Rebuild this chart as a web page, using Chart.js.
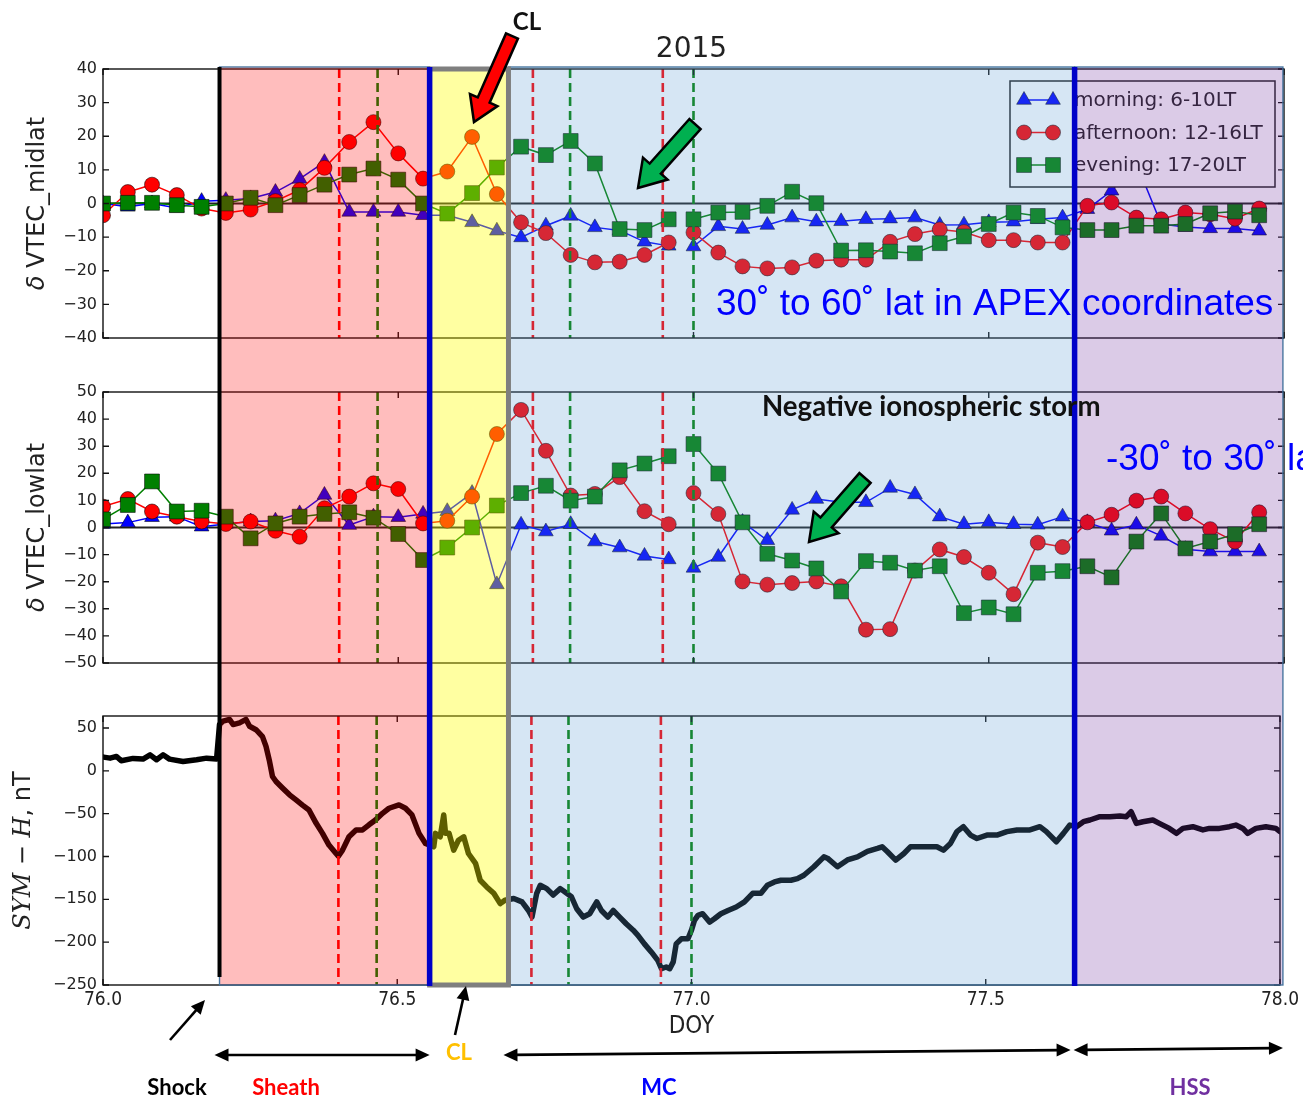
<!DOCTYPE html>
<html>
<head>
<meta charset="utf-8">
<script src="https://cdn.jsdelivr.net/npm/chart.js@4.4.1/dist/chart.umd.min.js"></script>
<style>
  html, body { margin: 0; padding: 0; background: #fff; }
  #fig { position: relative; width: 1303px; height: 1100px; overflow: hidden; }
  #fig canvas { position: absolute; left: 0; }
</style>
</head>
<body>
<div id="fig">
  <canvas id="midlat" width="1303" height="360" style="top:0px"></canvas>
  <canvas id="lowlat" width="1303" height="320" style="top:360px"></canvas>
  <canvas id="symh" width="1303" height="420" style="top:680px"></canvas>
  <canvas id="notes" width="1303" height="1100" style="top:0px"></canvas>
</div>
<script>
// ---------------------------------------------------------------------------
// Hourly VTEC deviation bins, day of year 2015 (DOY 76-77)
// ---------------------------------------------------------------------------
const doyHourly = [
  76.000, 76.042, 76.083, 76.125, 76.167, 76.208, 76.250, 76.292, 76.333, 76.375, 76.417, 76.458,
  76.500, 76.542, 76.583, 76.625, 76.667, 76.708, 76.750, 76.792, 76.833, 76.875, 76.917, 76.958,
  77.000, 77.042, 77.083, 77.125, 77.167, 77.208, 77.250, 77.292, 77.333, 77.375, 77.417, 77.458,
  77.500, 77.542, 77.583, 77.625, 77.667, 77.708, 77.750, 77.792, 77.833, 77.875, 77.917, 77.958
];

// mid latitudes (30 to 60 deg APEX)
const morningMid = [
  0, -1, 0, -1.3, 0.7, 1, 1.5, 3.4, 7.3, 12.3, -2.5, -2.5,
  -2.5, -3.5, -3.5, -5.6, -8.1, -10.1, -6.6, -3.7, -7.1, -8, -11.4, -12.6,
  -12.8, -6.8, -7.6, -6.4, -4.2, -5.4, -5.3, -4.7, -4.5, -4.2, -6.4, -6.3,
  -5.6, -5.4, -4.7, -4.2, -1.7, 3.8, 12, -6.1, -7, -7.4, -7.4, -8.1
];
const afternoonMid = [
  -3.5, 3.4, 5.6, 2.5, -1.5, -2.8, -1.8, 0.7, 4, 10.6, 18.3, 24.2,
  14.9, 7.4, 9.5, 19.8, 2.8, -5.6, -8.8, -15.3, -17.5, -17.3, -15.3, -11.6,
  -8.6, -14.6, -18.7, -19.3, -19, -17, -16.7, -16.7, -11.4, -9.1, -7.7, -8.5,
  -10.9, -10.9, -11.6, -11.6, -0.7, 0.3, -4.2, -4.7, -2.7, -3.2, -4.5, -1.5
];
const eveningMid = [
  0, 0.2, 0.2, -0.5, -1, 0, 1.7, -0.5, 2.5, 5.6, 8.6, 10.4,
  7.1, 0, -3, 3.1, 10.7, 16.9, 14.4, 18.6, 11.9, -7.6, -7.9, -4.7,
  -4.7, -2.7, -2.5, -0.7, 3.5, 0.1, -14, -13.9, -14.3, -14.8, -11.8, -9.8,
  -6.1, -2.7, -3.7, -7.1, -7.9, -7.9, -6.6, -6.6, -6.1, -2.9, -2.4, -3.5
];

// low latitudes (-30 to 30 deg APEX)
const morningLow = [
  1.3, 1.8, 3.8, 4, 0.3, 1.3, 2.2, 2.5, 5.2, 12, 0.9, 4,
  3.8, 5, 6, 12.7, -21, 1, -1.5, 1.2, -5.2, -7.4, -10.5, -11.8,
  -14.9, -10.9, 2, -4.7, 6.5, 10.5, 9.3, 9.3, 14.6, 12.2, 4, 1.2,
  1.9, 1.2, 1, 4, 1.9, -1.2, 1, -3.1, -8, -8.9, -8.9, -8.9
];
const afternoonLow = [
  7.7, 10.5, 5.9, 4, 2.2, 1.3, 2.2, -1.2, -3.4, 7.1, 11.4, 16.3,
  14.2, 1.5, 2.5, 11.4, 34.5, 43.4, 28.3, 11.8, 12.4, 18.6, 6, 1.2,
  12.7, 5, -19.9, -21.1, -20.5, -19.9, -21.7, -37.7, -37.5, -15.9, -8.1, -10.9,
  -16.7, -24.6, -5.6, -7.2, 1.9, 4.7, 9.9, 11.4, 5.2, -0.6, -5.2, 5.6
];
const eveningLow = [
  3, 8.3, 17, 5.9, 6.2, 4, -4, 1.5, 4, 5, 5.6, 3.6,
  -2.4, -12, -7.4, 0, 8.1, 12.7, 15.4, 9.9, 11.4, 21.1, 23.6, 26.3,
  30.8, 19.9, 1.9, -9.7, -12.2, -15.1, -23.6, -12.4, -13, -15.9, -14.3, -31.6,
  -29.5, -32, -16.7, -16.1, -14.3, -18.4, -5.2, 5.2, -7.7, -5.2, -2.5, 1.2
];

// SYM-H index, nT
const symDoy = [
  76.001, 76.012, 76.023, 76.031, 76.051, 76.068, 76.080, 76.091, 76.102, 76.113, 76.136, 76.159,
  76.176, 76.193, 76.198, 76.204, 76.215, 76.221, 76.232, 76.243, 76.249, 76.260, 76.271, 76.277,
  76.283, 76.288, 76.294, 76.305, 76.317, 76.328, 76.339, 76.350, 76.362, 76.373, 76.384, 76.396,
  76.400, 76.407, 76.418, 76.430, 76.441, 76.452, 76.463, 76.475, 76.486, 76.503, 76.514, 76.525,
  76.537, 76.548, 76.562, 76.565, 76.573, 76.579, 76.582, 76.588, 76.596, 76.604, 76.613, 76.621,
  76.633, 76.641, 76.652, 76.664, 76.675, 76.683, 76.698, 76.712, 76.723, 76.729, 76.737, 76.743,
  76.754, 76.765, 76.777, 76.788, 76.796, 76.805, 76.816, 76.827, 76.839, 76.847, 76.858, 76.867,
  76.878, 76.889, 76.901, 76.909, 76.920, 76.932, 76.943, 76.949, 76.957, 76.963, 76.969, 76.974,
  76.983, 76.994, 77.000, 77.005, 77.011, 77.019, 77.031, 77.039, 77.050, 77.062, 77.076, 77.090,
  77.104, 77.118, 77.129, 77.141, 77.152, 77.169, 77.180, 77.191, 77.208, 77.225, 77.231, 77.248,
  77.265, 77.282, 77.299, 77.316, 77.324, 77.333, 77.347, 77.361, 77.372, 77.395, 77.417, 77.428,
  77.440, 77.451, 77.462, 77.474, 77.485, 77.502, 77.519, 77.536, 77.553, 77.575, 77.592, 77.603,
  77.620, 77.632, 77.643, 77.654, 77.666, 77.677, 77.694, 77.711, 77.728, 77.739, 77.747, 77.756,
  77.767, 77.784, 77.795, 77.812, 77.824, 77.835, 77.852, 77.869, 77.880, 77.897, 77.914, 77.925,
  77.937, 77.945, 77.959, 77.976, 77.993, 78.000
];
const symH = [
  16, 14.8, 16.8, 11.7, 14.5, 13.7, 18.7, 12.9, 18.7, 13.7, 10.9, 12.9,
  14.8, 13.7, 54, 58, 60, 54, 56, 60, 52, 48, 40, 28.5,
  11, -6.6, -12.5, -20, -28, -34, -40, -45.7, -61, -73, -86.7, -96.5,
  -99.6, -92.6, -77, -69, -69, -63, -57.4, -49.6, -43.7, -39.8, -43.7, -51.5,
  -73, -84.8, -88.7, -73, -77, -51.6, -73, -73, -92.6, -81, -77, -96.5,
  -108, -127.7, -135.5, -143, -155, -151, -149, -153, -163, -170.7, -143, -133.6,
  -137.5, -145, -137.5, -143, -147, -161, -170.7, -166.8, -153, -163, -170.7, -163,
  -170.7, -178.5, -186, -192, -202, -211.7, -221.5, -231, -229, -231, -223, -202,
  -196, -196, -186, -174.6, -168.7, -166.8, -176.6, -172.7, -166.8, -163, -159, -153,
  -143, -143, -133.6, -129.7, -127.7, -127.7, -125.8, -121.9, -112, -100.4, -102, -112,
  -104, -100.4, -94, -90.6, -88.7, -94.5, -104.3, -96.5, -88.7, -88.7, -88.7, -92.6,
  -84.8, -71, -65.2, -75, -79, -75, -75, -71, -69, -69, -65.2, -71,
  -82.8, -73, -63.3, -65.2, -59.4, -57.4, -53.5, -53.5, -52.7, -53.5, -47.7, -61.3,
  -59.4, -57.4, -61.3, -67.2, -73, -67.2, -65.2, -69, -67.2, -67.2, -65.2, -63.3,
  -67.2, -73, -67.2, -65.2, -67.2, -71
];

// axis ticks
const doyTicks = [76.0, 76.5, 77.0, 77.5, 78.0];

// solar-wind structure intervals
const phaseNames = ['Sheath', 'CL', 'MC', 'HSS'];
const phaseStart = [76.198, 76.555, 76.689, 77.651];
const phaseEnd   = [76.555, 76.689, 77.651, 78.005];
const shockDoy = 76.198;

// epochs marked with dashed lines
const afternoonEpochs = [76.400, 76.728, 76.948];
const eveningEpochs   = [76.465, 76.791, 77.000];

// legend texts
const seriesLabels = ['morning: 6-10LT', 'afternoon: 12-16LT', 'evening: 17-20LT'];

// ---------------------------------------------------------------------------
const TICK_FONT = '"DejaVu Sans", sans-serif';
const NARROW_FONT = '"DejaVu Sans Condensed", "DejaVu Sans", sans-serif';
const STYLE = {
  morning:   { color: '#0000ff', pointStyle: 'triangle', radius: 8.5 },
  afternoon: { color: '#ff0000', pointStyle: 'circle',   radius: 7.5 },
  evening:   { color: '#008000', pointStyle: 'rect',     radius: 10.5 }
};

const minusFmt = v => (v < 0 ? '\u2212' + Math.abs(v) : String(v));

function hourlySet(label, values, st, order) {
  return {
    label, order,
    data: doyHourly.map((d, i) => ({ x: d, y: values[i] })),
    borderColor: st.color,
    backgroundColor: st.color,
    borderWidth: 1.5,
    pointStyle: st.pointStyle,
    pointRadius: st.radius,
    pointBackgroundColor: st.color,
    pointBorderColor: 'rgba(0,0,0,0.55)',
    pointBorderWidth: 1,
    tension: 0,
    // each day is plotted as its own curve
    segment: {
      borderColor: c => (c.p0.parsed.x < 77 && c.p1.parsed.x >= 77) ? 'rgba(0,0,0,0)' : undefined
    }
  };
}

function drawLegend(chart) {
  const { ctx, chartArea: a } = chart;
  const w = 265, h = 106;
  const left = a.right - 9 - w, top = a.top + 12;
  ctx.save();
  ctx.fillStyle = '#fff';
  ctx.fillRect(left, top, w, h);
  ctx.strokeStyle = '#222';
  ctx.lineWidth = 1.5;
  ctx.strokeRect(left, top, w, h);
  const dsList = chart.data.datasets;
  dsList.forEach((ds, i) => {
    const cy = top + 19 + i * 32.5;
    const x0 = left + 14, x1 = left + 43;
    ctx.strokeStyle = ds.borderColor;
    ctx.lineWidth = 1.5;
    ctx.beginPath(); ctx.moveTo(x0, cy); ctx.lineTo(x1, cy); ctx.stroke();
    [x0, x1].forEach(px => {
      ctx.fillStyle = ds.pointBackgroundColor;
      ctx.strokeStyle = ds.pointBorderColor;
      ctx.lineWidth = 1;
      Chart.helpers.drawPoint(ctx, { pointStyle: ds.pointStyle, radius: ds.pointRadius, rotation: 0, borderWidth: 1 }, px, cy);
    });
    ctx.fillStyle = '#222';
    ctx.font = '20px ' + TICK_FONT;
    ctx.textBaseline = 'middle';
    ctx.textAlign = 'left';
    ctx.fillText(ds.label, left + 64, cy + 1);
  });
  ctx.restore();
}

function drawRotatedTitle(ctx, pieces, cx, cy) {
  ctx.save();
  let total = 0;
  pieces.forEach(p => { ctx.font = p.font; p.w = ctx.measureText(p.text).width; total += p.w; });
  ctx.translate(cx, cy);
  ctx.rotate(-Math.PI / 2);
  ctx.fillStyle = '#222';
  ctx.textBaseline = 'middle';
  ctx.textAlign = 'left';
  let x = -total / 2;
  pieces.forEach(p => { ctx.font = p.font; ctx.fillText(p.text, x, 0); x += p.w; });
  ctx.restore();
}

const panelDecor = {
  id: 'panelDecor',
  beforeDatasetsDraw(chart, args, opts) {
    if (!opts.zeroLine) return;
    const { ctx, chartArea: a, scales: { y } } = chart;
    const yy = y.getPixelForValue(0);
    ctx.save();
    ctx.strokeStyle = '#222';
    ctx.lineWidth = 1.8;
    ctx.beginPath(); ctx.moveTo(a.left, yy); ctx.lineTo(a.right, yy); ctx.stroke();
    ctx.restore();
  },
  afterDatasetsDraw(chart, args, opts) {
    const { ctx, chartArea: a, scales: { x, y } } = chart;
    ctx.save();
    // dashed epoch markers
    ctx.lineWidth = 2.6;
    ctx.setLineDash([9, 5]);
    [[afternoonEpochs, '#ff0000'], [eveningEpochs, '#008000']].forEach(([list, col]) => {
      ctx.strokeStyle = col;
      list.forEach(d => {
        const px = x.getPixelForValue(d);
        ctx.beginPath(); ctx.moveTo(px, a.top); ctx.lineTo(px, a.bottom); ctx.stroke();
      });
    });
    ctx.setLineDash([]);
    // axes frame with inward ticks
    ctx.strokeStyle = '#111';
    ctx.lineWidth = 1.4;
    ctx.strokeRect(a.left, a.top, a.right - a.left, a.bottom - a.top);
    ctx.beginPath();
    doyTicks.forEach(d => {
      const px = x.getPixelForValue(d);
      ctx.moveTo(px, a.top); ctx.lineTo(px, a.top + 6);
      ctx.moveTo(px, a.bottom); ctx.lineTo(px, a.bottom - 6);
    });
    y.ticks.forEach(t => {
      const py = y.getPixelForValue(t.value);
      ctx.moveTo(a.left, py); ctx.lineTo(a.left + 6, py);
      ctx.moveTo(a.right, py); ctx.lineTo(a.right - 6, py);
    });
    ctx.stroke();
    ctx.restore();
    if (opts.legend) drawLegend(chart);
  },
  afterDraw(chart, args, opts) {
    const { ctx, chartArea: a } = chart;
    drawRotatedTitle(ctx, opts.title, opts.titleX, (a.top + a.bottom) / 2);
    if (opts.xTitle) {
      ctx.save();
      ctx.fillStyle = '#222';
      ctx.font = '24px ' + NARROW_FONT;
      ctx.textAlign = 'center';
      ctx.textBaseline = 'middle';
      ctx.fillText(opts.xTitle, (a.left + a.right) / 2, a.bottom + 42);
      ctx.restore();
    }
  }
};

function panel(canvasId, cfg) {
  return new Chart(document.getElementById(canvasId), {
    type: 'line',
    data: { datasets: cfg.datasets },
    options: {
      responsive: false,
      animation: false,
      events: [],
      layout: { padding: { left: 0, right: 19, top: cfg.padTop, bottom: cfg.padBottom } },
      plugins: {
        legend: { display: false },
        tooltip: { enabled: false },
        panelDecor: cfg.decor
      },
      scales: {
        x: {
          type: 'linear', min: 76, max: 78,
          display: cfg.showX,
          grid: { display: false, drawTicks: false }, border: { display: false },
          ticks: {
            stepSize: 0.5, padding: 4, color: '#222',
            font: { family: NARROW_FONT, size: 19 },
            callback: v => Number(v).toFixed(1)
          },
          afterFit: s => { if (cfg.showX) s.height = 30; }
        },
        y: {
          min: cfg.yMin, max: cfg.yMax,
          grid: { display: false, drawTicks: false }, border: { display: false },
          ticks: {
            stepSize: cfg.yStep, includeBounds: false, padding: 6, color: '#222',
            font: { family: TICK_FONT, size: 16 },
            callback: minusFmt
          },
          afterFit: s => { s.width = 103; }
        }
      }
    },
    plugins: [panelDecor]
  });
}

const deltaTitle = name => [
  { text: '\u03b4', font: 'italic 24px "DejaVu Sans"' },
  { text: ' VTEC_' + name, font: '24px "DejaVu Sans"' }
];

const chartMid = panel('midlat', {
  datasets: [
    hourlySet(seriesLabels[0], morningMid, STYLE.morning, 3),
    hourlySet(seriesLabels[1], afternoonMid, STYLE.afternoon, 2),
    hourlySet(seriesLabels[2], eveningMid, STYLE.evening, 1)
  ],
  yMin: -40, yMax: 40, yStep: 10, padTop: 69, padBottom: 22, showX: false,
  decor: { zeroLine: true, legend: true, title: deltaTitle('midlat'), titleX: 38 }
});

const chartLow = panel('lowlat', {
  datasets: [
    hourlySet(seriesLabels[0], morningLow, STYLE.morning, 3),
    hourlySet(seriesLabels[1], afternoonLow, STYLE.afternoon, 2),
    hourlySet(seriesLabels[2], eveningLow, STYLE.evening, 1)
  ],
  yMin: -50, yMax: 50, yStep: 10, padTop: 32, padBottom: 17, showX: false,
  decor: { zeroLine: true, legend: false, title: deltaTitle('lowlat'), titleX: 38 }
});

const chartSym = panel('symh', {
  datasets: [{
    label: 'SYM-H',
    data: symDoy.map((d, i) => ({ x: d, y: symH[i] })),
    borderColor: '#000', borderWidth: 5.5, pointRadius: 0,
    borderJoinStyle: 'round', borderCapStyle: 'round', tension: 0
  }],
  yMin: -250, yMax: 64, yStep: 50, padTop: 36, padBottom: 85, showX: true,
  decor: {
    zeroLine: false, legend: false, titleX: 24, xTitle: 'DOY',
    title: [
      { text: 'SYM', font: 'italic 24px "DejaVu Serif"' },
      { text: ' \u2212 ', font: '24px "DejaVu Sans"' },
      { text: 'H', font: 'italic 24px "DejaVu Serif"' },
      { text: ', nT', font: '24px "DejaVu Sans"' }
    ]
  }
});

// ---------------------------------------------------------------------------
// Interval shading, boundaries and annotations across all three panels
// ---------------------------------------------------------------------------
(function drawNotes() {
  const cv = document.getElementById('notes');
  const ctx = cv.getContext('2d');
  const offsets = { midlat: 0, lowlat: 360, symh: 680 };
  const X = v => chartSym.scales.x.getPixelForValue(v);
  const yTop = chartMid.chartArea.top - 2;
  const yBot = offsets.symh + chartSym.chartArea.bottom;
  const midY = v => offsets.midlat + chartMid.scales.y.getPixelForValue(v);
  const lowY = v => offsets.lowlat + chartLow.scales.y.getPixelForValue(v);

  const fills = ['rgba(255,0,0,0.26)', 'rgba(255,255,0,0.37)', 'rgba(91,155,213,0.25)', 'rgba(112,48,160,0.25)'];
  phaseNames.forEach((n, i) => {
    ctx.fillStyle = fills[i];
    ctx.fillRect(X(phaseStart[i]), yTop, X(phaseEnd[i]) - X(phaseStart[i]), yBot - yTop);
  });
  // thin outlines of the interval boxes
  ctx.strokeStyle = 'rgba(65,113,156,0.95)';
  ctx.lineWidth = 1.4;
  [0, 2, 3].forEach(i => {
    ctx.strokeRect(X(phaseStart[i]), yTop, X(phaseEnd[i]) - X(phaseStart[i]), yBot - yTop);
  });
  // CL box frame
  ctx.strokeStyle = '#7f7f7f';
  ctx.lineWidth = 5;
  ctx.strokeRect(X(phaseStart[1]), yTop + 2, X(phaseEnd[1]) - X(phaseStart[1]), yBot - yTop - 2);
  // interval boundaries
  ctx.strokeStyle = '#0000c8';
  ctx.lineWidth = 5.5;
  [phaseStart[1], phaseStart[3]].forEach(d => {
    ctx.beginPath(); ctx.moveTo(X(d), yTop); ctx.lineTo(X(d), yBot + 1); ctx.stroke();
  });
  ctx.strokeStyle = '#000';
  ctx.lineWidth = 4;
  ctx.beginPath(); ctx.moveTo(X(shockDoy), yTop); ctx.lineTo(X(shockDoy), yBot - 8); ctx.stroke();

  // ---- texts ----
  function fitFont(text, weight, family, width) {
    ctx.font = `${weight} 100px ${family}`;
    const s = 100 * width / ctx.measureText(text).width;
    return `${weight} ${s.toFixed(1)}px ${family}`;
  }
  function label(text, font, color, x, y, align) {
    ctx.font = font;
    ctx.fillStyle = color;
    ctx.textAlign = align || 'center';
    ctx.textBaseline = 'middle';
    ctx.fillText(text, x, y);
  }

  label('2015', '28px ' + TICK_FONT, '#222', X(77.0), 50);
  label('CL', 'bold 24px Lato', '#111', 527, 22);

  const blueFont = fitFont('30\u02da to 60\u02da lat in APEX coordinates', 'normal', '"Liberation Sans"', 558);
  label('30\u02da to 60\u02da lat in APEX coordinates', blueFont, '#0000ff', 716, midY(-30), 'left');
  label('-30\u02da to 30\u02da lat', blueFont, '#0000ff', 1106, lowY(25), 'left');

  const stormFont = fitFont('Negative ionospheric storm', 'bold', 'Lato', 339);
  label('Negative ionospheric storm', stormFont, '#111', 762, lowY(44.5), 'left');

  // ---- block arrows ----
  function blockArrow(x0, y0, x1, y1, shaftW, headW, headL, fill) {
    const dx = x1 - x0, dy = y1 - y0, L = Math.hypot(dx, dy);
    const ux = dx / L, uy = dy / L, nx = -uy, ny = ux;
    const bx = x1 - ux * headL, by = y1 - uy * headL;
    const pts = [
      [x0 + nx * shaftW / 2, y0 + ny * shaftW / 2],
      [bx + nx * shaftW / 2, by + ny * shaftW / 2],
      [bx + nx * headW / 2, by + ny * headW / 2],
      [x1, y1],
      [bx - nx * headW / 2, by - ny * headW / 2],
      [bx - nx * shaftW / 2, by - ny * shaftW / 2],
      [x0 - nx * shaftW / 2, y0 - ny * shaftW / 2]
    ];
    ctx.beginPath();
    pts.forEach((p, i) => (i ? ctx.lineTo(p[0], p[1]) : ctx.moveTo(p[0], p[1])));
    ctx.closePath();
    ctx.fillStyle = fill;
    ctx.fill();
    ctx.strokeStyle = '#000';
    ctx.lineWidth = 2.5;
    ctx.lineJoin = 'miter';
    ctx.stroke();
  }
  blockArrow(512, 36, 474, 122, 13, 30, 24, '#ff0000');
  blockArrow(695, 124, 638, 188, 15, 33, 26, '#00b050');
  blockArrow(865, 478, 809, 542, 15, 33, 26, '#00b050');

  // ---- interval arrows under the time axis ----
  function head(x0, y0, x1, y1) {
    const a = Math.atan2(y1 - y0, x1 - x0), L = 14, W = 6.5;
    ctx.beginPath();
    ctx.moveTo(x1, y1);
    ctx.lineTo(x1 - L * Math.cos(a) + W * Math.sin(a), y1 - L * Math.sin(a) - W * Math.cos(a));
    ctx.lineTo(x1 - L * Math.cos(a) - W * Math.sin(a), y1 - L * Math.sin(a) + W * Math.cos(a));
    ctx.closePath();
    ctx.fill();
  }
  function lineArrow(x0, y0, x1, y1, both) {
    ctx.strokeStyle = '#000';
    ctx.fillStyle = '#000';
    ctx.lineWidth = 2.6;
    const a = Math.atan2(y1 - y0, x1 - x0);
    const s0 = both ? 10 : 0;
    ctx.beginPath();
    ctx.moveTo(x0 + s0 * Math.cos(a), y0 + s0 * Math.sin(a));
    ctx.lineTo(x1 - 10 * Math.cos(a), y1 - 10 * Math.sin(a));
    ctx.stroke();
    head(x0, y0, x1, y1);
    if (both) head(x1, y1, x0, y0);
  }
  lineArrow(170, 1040, 205, 1000, false);
  lineArrow(455, 1035, 466, 986, false);
  lineArrow(X(phaseStart[0]) - 5, 1055, X(phaseEnd[0]), 1055, true);
  lineArrow(X(phaseStart[2]) - 5, 1055, X(phaseEnd[2]) - 4, 1050, true);
  lineArrow(X(phaseStart[3]) - 1, 1050, X(phaseEnd[3]), 1048, true);

  const bottomFont = 'bold 22px Lato';
  label('Shock', bottomFont, '#000', 177, 1088);
  label(phaseNames[0], bottomFont, '#ff0000', 286, 1088);
  label(phaseNames[1], bottomFont, '#ffc000', 459, 1053);
  label(phaseNames[2], bottomFont, '#0000ff', 659, 1088);
  label(phaseNames[3], bottomFont, '#7030a0', 1190, 1088);
})();
</script>
</body>
</html>
